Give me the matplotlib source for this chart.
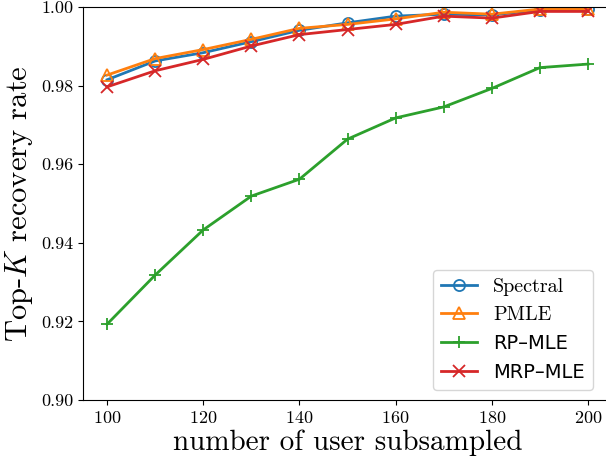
import numpy as np
import matplotlib
matplotlib.use("Agg")
import matplotlib.pyplot as plt

plt.rcParams['font.family'] = 'cmr10'
plt.rcParams['mathtext.fontset'] = 'cm'
plt.rcParams['axes.formatter.use_mathtext'] = True

## data
n_users = [100, 110, 120, 130, 140, 150, 160, 170, 180, 190, 200]
spectral = [0.9815, 0.9863, 0.9884, 0.9912, 0.9941, 0.9960, 0.9977, 0.9982, 0.9980, 0.9993, 0.9995]
pmle = [0.9827, 0.9869, 0.9892, 0.9918, 0.9946, 0.9956, 0.9970, 0.9987, 0.9982, 0.9995, 0.9995]
rp_mle = [0.9193, 0.9318, 0.9433, 0.9519, 0.9562, 0.9664, 0.9718, 0.9746, 0.9793, 0.9846, 0.9855]
mrp_mle = [0.9797, 0.9838, 0.9867, 0.9901, 0.9930, 0.9943, 0.9956, 0.9977, 0.9972, 0.9989, 0.9989]

fig = plt.figure(figsize=(6.06, 4.59), dpi=100)
ax = fig.add_axes([0.137, 0.1285, 0.873, 0.856])

ax.plot(n_users, spectral, color='tab:blue', marker='o', mfc='none', ms=8, mew=1.3, lw=2, label='Spectral')
ax.plot(n_users, pmle, color='tab:orange', marker='^', mfc='none', ms=8, mew=1.3, lw=2, label='PMLE')
ax.plot(n_users, rp_mle, color='tab:green', marker='+', ms=9, mew=1.3, lw=2, label='RP\u2013MLE')
ax.plot(n_users, mrp_mle, color='tab:red', marker='x', ms=8, mew=1.3, lw=2, label='MRP\u2013MLE')

ax.set_xlim(95, 205)
ax.set_ylim(0.90, 1.00)
ax.set_xticks([100, 120, 140, 160, 180, 200])
ax.set_yticks([0.90, 0.92, 0.94, 0.96, 0.98, 1.00])
ax.set_yticklabels(['0.90', '0.92', '0.94', '0.96', '0.98', '1.00'])
ax.tick_params(labelsize=13)
ax.set_xlabel('number of user subsampled', fontsize=21, labelpad=3)
ax.set_ylabel('Top-$K$ recovery rate', fontsize=22, labelpad=4)

leg = ax.legend(loc='lower right', bbox_to_anchor=(0.964, 0.025), borderaxespad=0, fontsize=14.5,
                handlelength=1.8)
for t in leg.get_texts()[2:]:
    t.set_fontfamily('DejaVu Sans')
    t.set_fontsize(14)

fig.savefig('out.png', dpi=100)
